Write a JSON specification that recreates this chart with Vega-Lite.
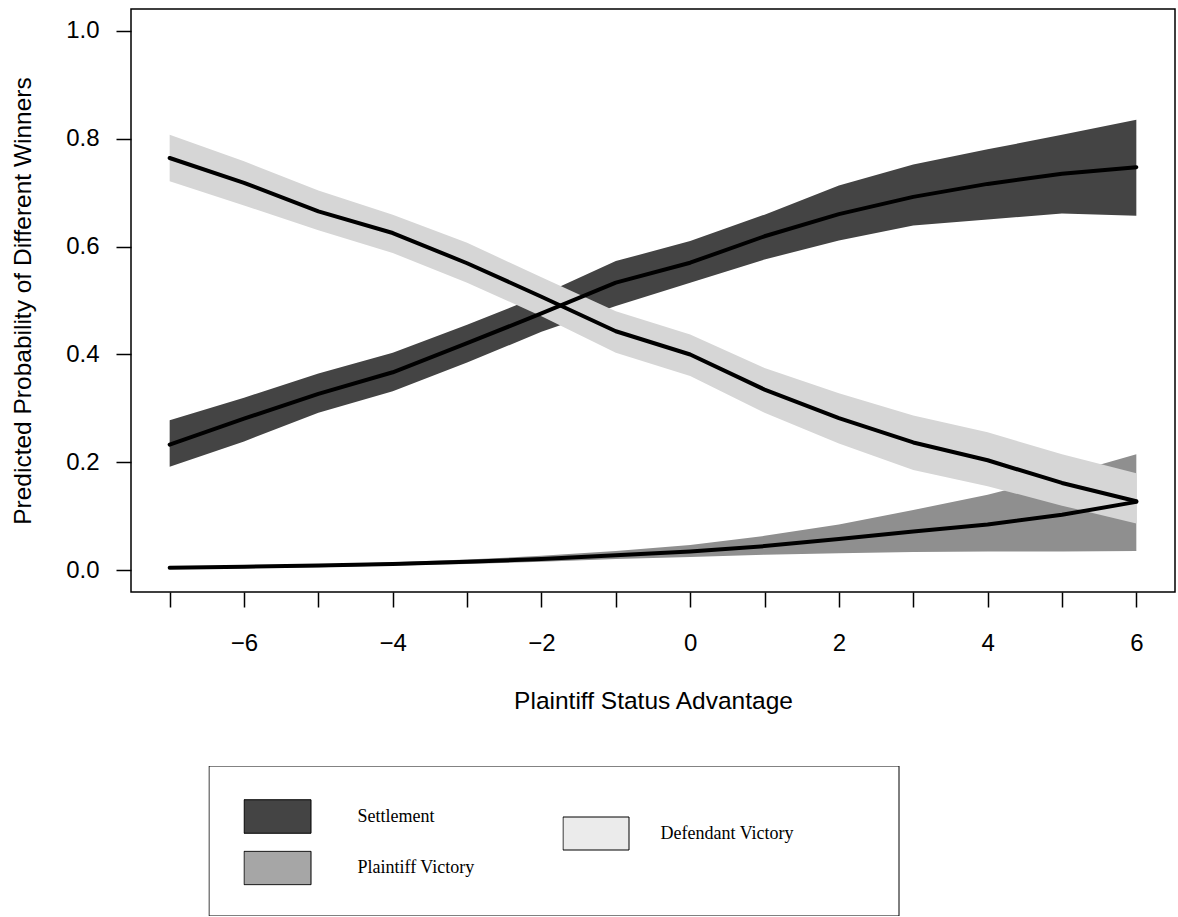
{
  "$schema": "https://vega.github.io/schema/vega-lite/v6.json",
  "width": 1044,
  "height": 583,
  "autosize": {"type": "none"},
  "padding": {"left": 131, "top": 9, "right": 3, "bottom": 325},
  "background": "white",
  "config": {
    "view": {"stroke": "black", "strokeWidth": 1.5},
    "font": "Liberation Sans",
    "axis": {
      "labelFont": "Liberation Sans",
      "titleFont": "Liberation Sans",
      "labelFontSize": 24,
      "titleFontSize": 24.5,
      "titleFontWeight": "normal",
      "labelColor": "black",
      "titleColor": "black",
      "tickColor": "black",
      "tickWidth": 1.5,
      "tickSize": 15,
      "domain": false,
      "grid": false,
      "labelFlush": false,
      "labelOverlap": false
    },
    "legend": {
      "labelFont": "Liberation Serif",
      "labelFontSize": 18,
      "labelColor": "black",
      "padding": 0,
      "symbolOpacity": 1,
      "labelLimit": 0
    }
  },
  "data": {
    "values": [
      {"x": -7, "series": "Settlement", "p": 0.233, "lo": 0.192, "hi": 0.278},
      {"x": -6, "series": "Settlement", "p": 0.281, "lo": 0.239, "hi": 0.320},
      {"x": -5, "series": "Settlement", "p": 0.327, "lo": 0.292, "hi": 0.365},
      {"x": -4, "series": "Settlement", "p": 0.367, "lo": 0.332, "hi": 0.403},
      {"x": -3, "series": "Settlement", "p": 0.421, "lo": 0.385, "hi": 0.455},
      {"x": -2, "series": "Settlement", "p": 0.476, "lo": 0.442, "hi": 0.510},
      {"x": -1, "series": "Settlement", "p": 0.533, "lo": 0.490, "hi": 0.573},
      {"x": 0, "series": "Settlement", "p": 0.570, "lo": 0.533, "hi": 0.610},
      {"x": 1, "series": "Settlement", "p": 0.619, "lo": 0.576, "hi": 0.659},
      {"x": 2, "series": "Settlement", "p": 0.660, "lo": 0.611, "hi": 0.713},
      {"x": 3, "series": "Settlement", "p": 0.692, "lo": 0.639, "hi": 0.752},
      {"x": 4, "series": "Settlement", "p": 0.716, "lo": 0.650, "hi": 0.780},
      {"x": 5, "series": "Settlement", "p": 0.735, "lo": 0.661, "hi": 0.807},
      {"x": 6, "series": "Settlement", "p": 0.747, "lo": 0.657, "hi": 0.835},
      {"x": -7, "series": "Plaintiff Victory", "p": 0.005, "lo": 0.003, "hi": 0.006},
      {"x": -6, "series": "Plaintiff Victory", "p": 0.007, "lo": 0.004, "hi": 0.008},
      {"x": -5, "series": "Plaintiff Victory", "p": 0.009, "lo": 0.006, "hi": 0.011},
      {"x": -4, "series": "Plaintiff Victory", "p": 0.012, "lo": 0.009, "hi": 0.015},
      {"x": -3, "series": "Plaintiff Victory", "p": 0.016, "lo": 0.012, "hi": 0.020},
      {"x": -2, "series": "Plaintiff Victory", "p": 0.021, "lo": 0.016, "hi": 0.027},
      {"x": -1, "series": "Plaintiff Victory", "p": 0.028, "lo": 0.021, "hi": 0.036},
      {"x": 0, "series": "Plaintiff Victory", "p": 0.035, "lo": 0.025, "hi": 0.047},
      {"x": 1, "series": "Plaintiff Victory", "p": 0.045, "lo": 0.029, "hi": 0.064},
      {"x": 2, "series": "Plaintiff Victory", "p": 0.058, "lo": 0.032, "hi": 0.085},
      {"x": 3, "series": "Plaintiff Victory", "p": 0.072, "lo": 0.034, "hi": 0.112},
      {"x": 4, "series": "Plaintiff Victory", "p": 0.085, "lo": 0.035, "hi": 0.140},
      {"x": 5, "series": "Plaintiff Victory", "p": 0.103, "lo": 0.035, "hi": 0.176},
      {"x": 6, "series": "Plaintiff Victory", "p": 0.127, "lo": 0.036, "hi": 0.215},
      {"x": -7, "series": "Defendant Victory", "p": 0.764, "lo": 0.721, "hi": 0.807},
      {"x": -6, "series": "Defendant Victory", "p": 0.718, "lo": 0.676, "hi": 0.758},
      {"x": -5, "series": "Defendant Victory", "p": 0.665, "lo": 0.630, "hi": 0.704},
      {"x": -4, "series": "Defendant Victory", "p": 0.625, "lo": 0.588, "hi": 0.659},
      {"x": -3, "series": "Defendant Victory", "p": 0.569, "lo": 0.533, "hi": 0.607},
      {"x": -2, "series": "Defendant Victory", "p": 0.507, "lo": 0.471, "hi": 0.543},
      {"x": -1, "series": "Defendant Victory", "p": 0.443, "lo": 0.403, "hi": 0.480},
      {"x": 0, "series": "Defendant Victory", "p": 0.400, "lo": 0.360, "hi": 0.437},
      {"x": 1, "series": "Defendant Victory", "p": 0.335, "lo": 0.292, "hi": 0.375},
      {"x": 2, "series": "Defendant Victory", "p": 0.282, "lo": 0.235, "hi": 0.328},
      {"x": 3, "series": "Defendant Victory", "p": 0.237, "lo": 0.186, "hi": 0.287},
      {"x": 4, "series": "Defendant Victory", "p": 0.204, "lo": 0.156, "hi": 0.256},
      {"x": 5, "series": "Defendant Victory", "p": 0.162, "lo": 0.120, "hi": 0.215},
      {"x": 6, "series": "Defendant Victory", "p": 0.128, "lo": 0.087, "hi": 0.180}
    ]
  },
  "layer": [
    {
      "transform": [{"filter": {"field": "series", "equal": "Settlement"}}],
      "mark": {"type": "area", "color": "#444444", "opacity": 1},
      "encoding": {
        "x": {
          "field": "x", "type": "quantitative",
          "scale": {"domain": [-7.52, 6.52], "nice": false, "zero": false},
          "axis": {
            "values": [-7, -6, -5, -4, -3, -2, -1, 0, 1, 2, 3, 4, 5, 6],
            "format": "d",
            "labelExpr": "datum.value % 2 === 0 ? datum.label : ''",
            "labelPadding": 24,
            "titleY": 116,
            "titleBaseline": "alphabetic"
          },
          "title": "Plaintiff Status Advantage"
        },
        "y": {
          "field": "lo", "type": "quantitative",
          "scale": {"domain": [-0.04, 1.04], "nice": false, "zero": false},
          "axis": {
            "values": [0, 0.2, 0.4, 0.6, 0.8, 1.0],
            "format": ".1f",
            "labelPadding": 17,
            "titleAngle": -90,
            "titleX": -101,
            "titleY": 291.5,
            "titleAlign": "center",
            "titleBaseline": "alphabetic"
          },
          "title": "Predicted Probability of Different Winners"
        },
        "y2": {"field": "hi"}
      }
    },
    {
      "transform": [{"filter": {"field": "series", "equal": "Plaintiff Victory"}}],
      "mark": {"type": "area", "color": "#8f8f8f", "opacity": 1},
      "encoding": {
        "x": {"field": "x", "type": "quantitative", "title": "Plaintiff Status Advantage"},
        "y": {"field": "lo", "type": "quantitative", "title": "Predicted Probability of Different Winners"},
        "y2": {"field": "hi"}
      }
    },
    {
      "transform": [{"filter": {"field": "series", "equal": "Defendant Victory"}}],
      "mark": {"type": "area", "color": "#d6d6d6", "opacity": 1},
      "encoding": {
        "x": {"field": "x", "type": "quantitative", "title": "Plaintiff Status Advantage"},
        "y": {"field": "lo", "type": "quantitative", "title": "Predicted Probability of Different Winners"},
        "y2": {"field": "hi"}
      }
    },
    {
      "mark": {"type": "line", "color": "black", "strokeWidth": 4, "strokeCap": "round", "strokeJoin": "round"},
      "encoding": {
        "x": {"field": "x", "type": "quantitative", "title": "Plaintiff Status Advantage"},
        "y": {"field": "p", "type": "quantitative", "title": "Predicted Probability of Different Winners"},
        "detail": {"field": "series"}
      }
    },
    {
      "transform": [{"filter": "false"}],
      "mark": {"type": "area", "opacity": 1},
      "encoding": {
        "x": {"field": "x", "type": "quantitative", "title": "Plaintiff Status Advantage"},
        "y": {"field": "lo", "type": "quantitative", "title": "Predicted Probability of Different Winners"},
        "y2": {"field": "hi"},
        "fill": {
          "field": "series", "type": "nominal",
          "scale": {"domain": ["Settlement", "Plaintiff Victory"], "range": ["#444444", "#a6a6a6"]},
          "legend": {
            "orient": "none", "legendX": 112.5, "legendY": 790, "title": null,
            "direction": "vertical",
            "symbolType": "M-1,-0.5H1V0.5H-1Z", "symbolSize": 4489,
            "clipHeight": 35, "rowPadding": 16.5, "labelOffset": 46,
            "symbolStrokeColor": "black", "symbolStrokeWidth": 1
          }
        }
      }
    },
    {
      "transform": [{"filter": "false"}],
      "mark": {"type": "area", "opacity": 1},
      "encoding": {
        "x": {"field": "x", "type": "quantitative", "title": "Plaintiff Status Advantage"},
        "y": {"field": "lo", "type": "quantitative", "title": "Predicted Probability of Different Winners"},
        "y2": {"field": "hi"},
        "fill": {
          "field": "series", "type": "nominal",
          "scale": {"domain": ["Defendant Victory"], "range": ["#ebebeb"]},
          "legend": {
            "orient": "none", "legendX": 431.5, "legendY": 807, "title": null,
            "symbolType": "M-1,-0.5H1V0.5H-1Z", "symbolSize": 4356,
            "clipHeight": 35, "labelOffset": 31,
            "symbolStrokeColor": "black", "symbolStrokeWidth": 1
          }
        }
      }
    },
    {
      "transform": [{"filter": "false"}],
      "mark": {"type": "point", "filled": false, "color": "black", "opacity": 1},
      "encoding": {
        "shape": {
          "field": "series", "type": "nominal",
          "scale": {"domain": ["box"], "range": ["M-1,-0.2174H1V0.2174H-1Z"]},
          "legend": {
            "orient": "none", "legendX": 77.5, "legendY": 757, "title": null,
            "symbolSize": 476100, "clipHeight": 150,
            "labelExpr": "''",
            "symbolStrokeColor": "black", "symbolStrokeWidth": 1, "symbolFillColor": "transparent"
          }
        }
      }
    }
  ],
  "resolve": {"scale": {"fill": "independent"}}
}
